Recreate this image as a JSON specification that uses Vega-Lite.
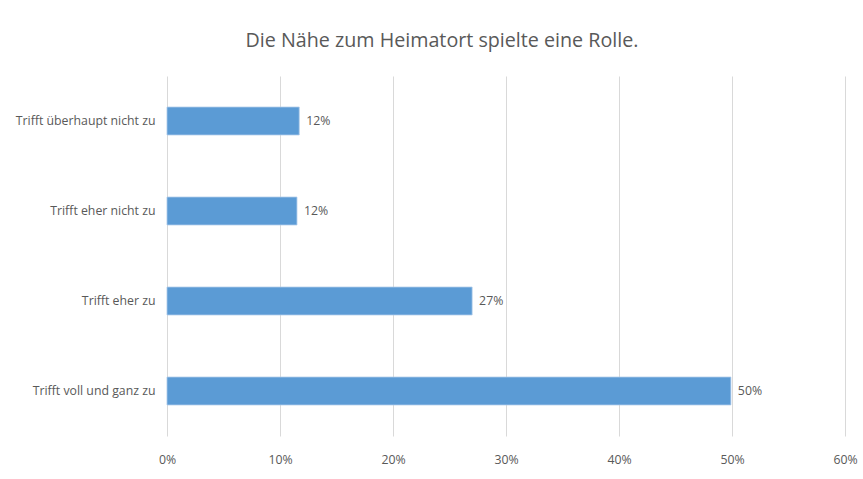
{
  "$schema": "https://vega.github.io/schema/vega-lite/v6.json",
  "width": 678,
  "height": 360,
  "autosize": {"type": "none"},
  "padding": {"left": 167, "top": 76, "right": 18, "bottom": 43},
  "background": "white",
  "config": {
    "view": {"stroke": null},
    "font": "Open Sans"
  },
  "title": {
    "text": "Die Nähe zum Heimatort spielte eine Rolle.",
    "fontSize": 19.7,
    "fontWeight": "normal",
    "color": "#595959",
    "font": "Open Sans",
    "anchor": "middle",
    "dx": -64,
    "offset": 25
  },
  "data": {
    "values": [
      {"kategorie": "Trifft überhaupt nicht zu", "anteil": 0.117, "label": "12%"},
      {"kategorie": "Trifft eher nicht zu", "anteil": 0.115, "label": "12%"},
      {"kategorie": "Trifft eher zu", "anteil": 0.27, "label": "27%"},
      {"kategorie": "Trifft voll und ganz zu", "anteil": 0.499, "label": "50%"}
    ]
  },
  "encoding": {
    "y": {
      "field": "kategorie",
      "type": "nominal",
      "sort": null,
      "scale": {"paddingInner": 0.69, "paddingOuter": 0.345},
      "axis": {
        "title": null,
        "ticks": false,
        "domain": false,
        "labelFontSize": 12.3,
        "labelColor": "#595959",
        "labelPadding": 12,
        "labelFont": "Open Sans"
      }
    },
    "x": {
      "field": "anteil",
      "type": "quantitative",
      "scale": {"domain": [0, 0.6], "nice": false},
      "axis": {
        "title": null,
        "format": ".0%",
        "values": [0, 0.1, 0.2, 0.3, 0.4, 0.5, 0.6],
        "ticks": false,
        "domain": false,
        "grid": true,
        "gridColor": "#d9d9d9",
        "gridWidth": 1,
        "labelFontSize": 12.3,
        "labelColor": "#595959",
        "labelPadding": 17,
        "labelFont": "Open Sans",
        "labelFlush": false
      }
    }
  },
  "layer": [
    {
      "mark": {"type": "bar", "color": "#5b9bd5", "stroke": "#a9c8e8", "strokeWidth": 0.8}
    },
    {
      "mark": {"type": "text", "align": "left", "dx": 7, "fontSize": 12.3, "color": "#595959", "font": "Open Sans"},
      "encoding": {"text": {"field": "label"}}
    }
  ]
}
